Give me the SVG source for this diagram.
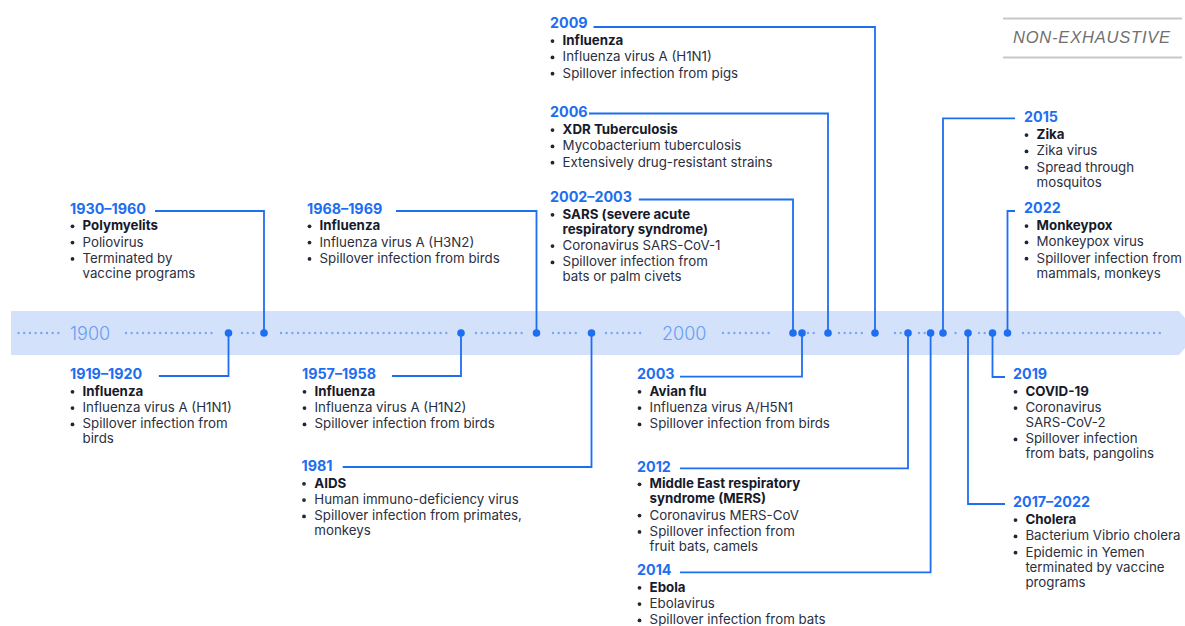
<svg xmlns="http://www.w3.org/2000/svg" width="1185" height="626" viewBox="0 0 1185 626">
<style>
text{font-family:Inter,"Liberation Sans",sans-serif}
.t{font-size:14.3px;font-weight:700;fill:#1d6ef0}
.b{font-size:13.3px;fill:#2b2f3f}
.bb{font-size:13.3px;font-weight:700;fill:#161a2b}
.bul{fill:#22263a}
.yr{font-size:18px;font-weight:300;fill:#6a9cf2}
.c{fill:none;stroke:#1d6ef0;stroke-width:1.8}
.m{fill:#1d6ef0}
.d{stroke:#78a6f3;stroke-width:2.4;stroke-linecap:round;stroke-dasharray:0 5.7}
.ne{font-family:"Liberation Sans",sans-serif;font-size:16.5px;font-style:italic;fill:#707070;letter-spacing:0.8px}
</style>
<defs>
<circle id="bu" r="1.9" class="bul"/>
</defs>
<g id="band">
<polygon points="11,311 1179,311 1185,318 1185,348 1179,355 11,355" fill="#d3e2fa"/>
<line class="d" x1="18.5" y1="333" x2="59" y2="333"/>
<line class="d" x1="126" y1="333" x2="217" y2="333"/>
<line class="d" x1="242" y1="333" x2="254" y2="333"/>
<line class="d" x1="281" y1="333" x2="450" y2="333"/>
<line class="d" x1="476" y1="333" x2="525" y2="333"/>
<line class="d" x1="553" y1="333" x2="580" y2="333"/>
<line class="d" x1="606" y1="333" x2="641" y2="333"/>
<line class="d" x1="723" y1="333" x2="769" y2="333"/>
<line class="d" x1="808" y1="333" x2="818" y2="333"/>
<line class="d" x1="839" y1="333" x2="863" y2="333"/>
<line class="d" x1="895" y1="333" x2="901" y2="333"/>
<line class="d" x1="919" y1="333" x2="925" y2="333"/>
<line class="d" x1="955.5" y1="333" x2="956" y2="333"/>
<line class="d" x1="979" y1="333" x2="985" y2="333"/>
<line class="d" x1="1023" y1="333" x2="1162" y2="333"/>
<text class="yr" x="70" y="339.5">1900</text>
<text class="yr" x="662" y="339.5">2000</text>
</g>
<g id="note">
<line x1="1003" y1="18.5" x2="1182" y2="18.5" stroke="#c8c8c8" stroke-width="2"/>
<line x1="1003" y1="57.5" x2="1182" y2="57.5" stroke="#c8c8c8" stroke-width="2"/>
<text class="ne" x="1013" y="42.5">NON-EXHAUSTIVE</text>
</g>
<g id="connectors">
<path class="c" d="M158.8,376 H228.5 V333"/>
<path class="c" d="M155,211 H264 V333"/>
<path class="c" d="M392,376 H461 V333"/>
<path class="c" d="M396,211 H536.5 V333"/>
<path class="c" d="M342.7,467 H591.5 V333"/>
<path class="c" d="M638.8,199.5 H793 V333"/>
<path class="c" d="M680,376.7 H802 V333"/>
<path class="c" d="M589,113.5 H828 V333"/>
<path class="c" d="M593.5,27 H875 V333"/>
<path class="c" d="M680,468.3 H908 V333"/>
<path class="c" d="M680,572.3 H930.6 V333"/>
<path class="c" d="M943,333 V118.3 H1015"/>
<path class="c" d="M968,333 V504 H1005"/>
<path class="c" d="M992.5,333 V377 H1005"/>
<path class="c" d="M1007.5,333 V211 H1015"/>
<circle class="m" cx="228.5" cy="333" r="3.8"/>
<circle class="m" cx="264" cy="333" r="3.8"/>
<circle class="m" cx="461" cy="333" r="3.8"/>
<circle class="m" cx="536.5" cy="333" r="3.8"/>
<circle class="m" cx="591.5" cy="333" r="3.8"/>
<circle class="m" cx="793" cy="333" r="3.8"/>
<circle class="m" cx="802" cy="333" r="3.8"/>
<circle class="m" cx="828" cy="333" r="3.8"/>
<circle class="m" cx="875" cy="333" r="3.8"/>
<circle class="m" cx="908" cy="333" r="3.8"/>
<circle class="m" cx="930.6" cy="333" r="3.8"/>
<circle class="m" cx="943" cy="333" r="3.8"/>
<circle class="m" cx="968" cy="333" r="3.8"/>
<circle class="m" cx="992.5" cy="333" r="3.8"/>
<circle class="m" cx="1007.5" cy="333" r="3.8"/>
</g>
<g id="n1919">
<text class="t" x="70" y="379">1919–1920</text>
<use href="#bu" x="72.5" y="391.8"/><use href="#bu" x="72.5" y="408.1"/><use href="#bu" x="72.5" y="424.4"/>
<text class="bb" x="82.5" y="395.8">Influenza</text>
<text class="b" x="82.5" y="412.1">Influenza virus A (H1N1)</text>
<text class="b" x="82.5" y="428.4">Spillover infection from</text>
<text class="b" x="82.5" y="443.4">birds</text>
</g>
<g id="n1930">
<text class="t" x="70" y="213.5">1930–1960</text>
<use href="#bu" x="72.5" y="226.3"/><use href="#bu" x="72.5" y="242.6"/><use href="#bu" x="72.5" y="258.9"/>
<text class="bb" x="82.5" y="230.3">Polymyelits</text>
<text class="b" x="82.5" y="246.6">Poliovirus</text>
<text class="b" x="82.5" y="262.9">Terminated by</text>
<text class="b" x="82.5" y="277.9">vaccine programs</text>
</g>
<g id="n1957">
<text class="t" x="302" y="379">1957–1958</text>
<use href="#bu" x="304.5" y="391.8"/><use href="#bu" x="304.5" y="408.1"/><use href="#bu" x="304.5" y="424.4"/>
<text class="bb" x="314.5" y="395.8">Influenza</text>
<text class="b" x="314.5" y="412.1">Influenza virus A (H1N2)</text>
<text class="b" x="314.5" y="428.4">Spillover infection from birds</text>
</g>
<g id="n1968">
<text class="t" x="307" y="213.5">1968–1969</text>
<use href="#bu" x="309.5" y="226.3"/><use href="#bu" x="309.5" y="242.6"/><use href="#bu" x="309.5" y="258.9"/>
<text class="bb" x="319.5" y="230.3">Influenza</text>
<text class="b" x="319.5" y="246.6">Influenza virus A (H3N2)</text>
<text class="b" x="319.5" y="262.9">Spillover infection from birds</text>
</g>
<g id="n1981">
<text class="t" x="301.5" y="471">1981</text>
<use href="#bu" x="304" y="483.8"/><use href="#bu" x="304" y="500.1"/><use href="#bu" x="304" y="516.4"/>
<text class="bb" x="314.3" y="487.8">AIDS</text>
<text class="b" x="314.3" y="504.1">Human immuno-deficiency virus</text>
<text class="b" x="314.3" y="520.4">Spillover infection from primates,</text>
<text class="b" x="314.3" y="535.4">monkeys</text>
</g>
<g id="n2002">
<text class="t" x="550" y="202">2002–2003</text>
<use href="#bu" x="552.5" y="214.8"/><use href="#bu" x="552.5" y="246.1"/><use href="#bu" x="552.5" y="262.4"/>
<text class="bb" x="562.6" y="218.8">SARS (severe acute</text>
<text class="bb" x="562.6" y="233.8">respiratory syndrome)</text>
<text class="b" x="562.6" y="250.1">Coronavirus SARS-CoV-1</text>
<text class="b" x="562.6" y="266.4">Spillover infection from</text>
<text class="b" x="562.6" y="281.4">bats or palm civets</text>
</g>
<g id="n2003">
<text class="t" x="637" y="379">2003</text>
<use href="#bu" x="639.5" y="391.8"/><use href="#bu" x="639.5" y="408.1"/><use href="#bu" x="639.5" y="424.4"/>
<text class="bb" x="649.6" y="395.8">Avian flu</text>
<text class="b" x="649.6" y="412.1">Influenza virus A/H5N1</text>
<text class="b" x="649.6" y="428.4">Spillover infection from birds</text>
</g>
<g id="n2006">
<text class="t" x="550" y="117.3">2006</text>
<use href="#bu" x="552.5" y="130.1"/><use href="#bu" x="552.5" y="146.4"/><use href="#bu" x="552.5" y="162.7"/>
<text class="bb" x="562.6" y="134.1">XDR Tuberculosis</text>
<text class="b" x="562.6" y="150.4">Mycobacterium tuberculosis</text>
<text class="b" x="562.6" y="166.7">Extensively drug-resistant strains</text>
</g>
<g id="n2009">
<text class="t" x="550" y="28.3">2009</text>
<use href="#bu" x="552.5" y="41.1"/><use href="#bu" x="552.5" y="57.4"/><use href="#bu" x="552.5" y="73.7"/>
<text class="bb" x="562.6" y="45.1">Influenza</text>
<text class="b" x="562.6" y="61.4">Influenza virus A (H1N1)</text>
<text class="b" x="562.6" y="77.7">Spillover infection from pigs</text>
</g>
<g id="n2012">
<text class="t" x="637" y="471.5">2012</text>
<use href="#bu" x="639.5" y="484.3"/><use href="#bu" x="639.5" y="515.6"/><use href="#bu" x="639.5" y="531.9"/>
<text class="bb" x="649.6" y="488.3">Middle East respiratory</text>
<text class="bb" x="649.6" y="503.3">syndrome (MERS)</text>
<text class="b" x="649.6" y="519.6">Coronavirus MERS-CoV</text>
<text class="b" x="649.6" y="535.9">Spillover infection from</text>
<text class="b" x="649.6" y="550.9">fruit bats, camels</text>
</g>
<g id="n2014">
<text class="t" x="637" y="575">2014</text>
<use href="#bu" x="639.5" y="587.8"/><use href="#bu" x="639.5" y="604.1"/><use href="#bu" x="639.5" y="620.4"/>
<text class="bb" x="649.6" y="591.8">Ebola</text>
<text class="b" x="649.6" y="608.1">Ebolavirus</text>
<text class="b" x="649.6" y="624.4">Spillover infection from bats</text>
</g>
<g id="n2015">
<text class="t" x="1024" y="122.3">2015</text>
<use href="#bu" x="1026.5" y="135.1"/><use href="#bu" x="1026.5" y="151.4"/><use href="#bu" x="1026.5" y="167.7"/>
<text class="bb" x="1036.6" y="139.1">Zika</text>
<text class="b" x="1036.6" y="155.4">Zika virus</text>
<text class="b" x="1036.6" y="171.7">Spread through</text>
<text class="b" x="1036.6" y="186.7">mosquitos</text>
</g>
<g id="n2017">
<text class="t" x="1013" y="507.3">2017–2022</text>
<use href="#bu" x="1015.5" y="520.1"/><use href="#bu" x="1015.5" y="536.4"/><use href="#bu" x="1015.5" y="552.7"/>
<text class="bb" x="1025.4" y="524.1">Cholera</text>
<text class="b" x="1025.4" y="540.4">Bacterium Vibrio cholera</text>
<text class="b" x="1025.4" y="556.7">Epidemic in Yemen</text>
<text class="b" x="1025.4" y="571.7">terminated by vaccine</text>
<text class="b" x="1025.4" y="586.7">programs</text>
</g>
<g id="n2019">
<text class="t" x="1013" y="379">2019</text>
<use href="#bu" x="1015.5" y="391.8"/><use href="#bu" x="1015.5" y="408.1"/><use href="#bu" x="1015.5" y="439.4"/>
<text class="bb" x="1025.4" y="395.8">COVID-19</text>
<text class="b" x="1025.4" y="412.1">Coronavirus</text>
<text class="b" x="1025.4" y="427.1">SARS-CoV-2</text>
<text class="b" x="1025.4" y="443.4">Spillover infection</text>
<text class="b" x="1025.4" y="458.4">from bats, pangolins</text>
</g>
<g id="n2022">
<text class="t" x="1024" y="213.3">2022</text>
<use href="#bu" x="1026.5" y="226.1"/><use href="#bu" x="1026.5" y="242.4"/><use href="#bu" x="1026.5" y="258.7"/>
<text class="bb" x="1036.6" y="230.1">Monkeypox</text>
<text class="b" x="1036.6" y="246.4">Monkeypox virus</text>
<text class="b" x="1036.6" y="262.7">Spillover infection from</text>
<text class="b" x="1036.6" y="277.7">mammals, monkeys</text>
</g>
</svg>
